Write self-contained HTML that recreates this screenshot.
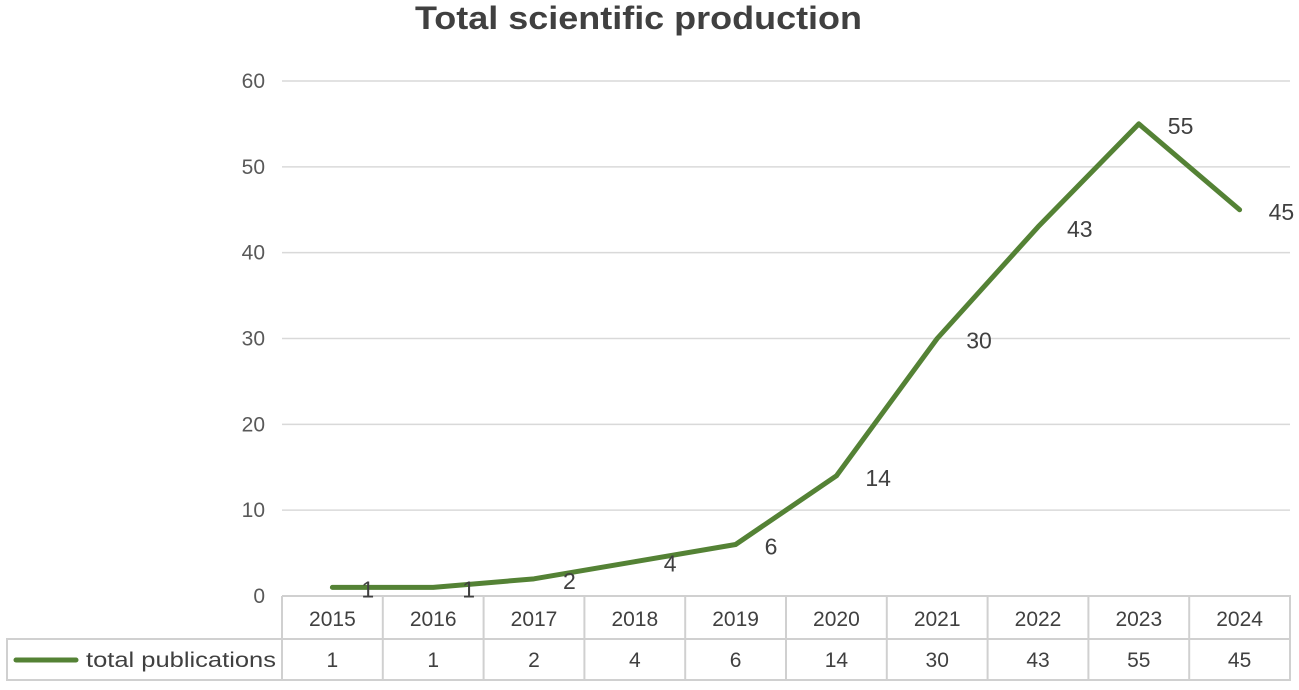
<!DOCTYPE html>
<html><head><meta charset="utf-8"><style>
body{margin:0;background:#fff;}
svg{display:block;font-family:"Liberation Sans",Calibri,sans-serif;}
</style></head><body>
<svg width="1299" height="690" viewBox="0 0 1299 690">
<text x="415" y="29" textLength="447" lengthAdjust="spacingAndGlyphs" font-size="32" font-weight="bold" fill="#404040">Total scientific production</text>
<g id="grid"></g>
<g id="table"></g>
<g id="series"></g>
</svg>
<script>
const years = ["2015","2016","2017","2018","2019","2020","2021","2022","2023","2024"];
const pubs = [1,1,2,4,6,14,30,43,55,45];
const yTicks = [0,10,20,30,40,50,60];
const ns="http://www.w3.org/2000/svg";
const L=282,R=1290,Y0=596,Y60=81,T1=639,B=680;
const cw=(R-L)/years.length;
const x=i=>L+cw*(i+0.5);
const y=v=>Y0-(v/60)*(Y0-Y60);
function mk(t,a,p){const e=document.createElementNS(ns,t);for(const k in a)e.setAttribute(k,a[k]);p.appendChild(e);return e;}
const grid=document.getElementById('grid'),tbl=document.getElementById('table'),ser=document.getElementById('series');
yTicks.forEach(v=>{
  if(v>0){const g=mk('line',{x1:L,x2:R,y1:y(v),y2:y(v),stroke:'#d9d9d9','stroke-width':1.5},grid);
  
  }
  const t=mk('text',{x:265,y:y(v)+7,'text-anchor':'end','font-size':21,fill:'#595959'},grid);
  t.textContent=v;
  
  
});
const st={stroke:'#d0d0d0','stroke-width':2,fill:'none'};
const o=mk('path',Object.assign({d:`M${L} ${Y0}H${R}V${B}H7V${T1}H${R}M${L} ${Y0}V${B}`},st),tbl);


years.forEach((yr,i)=>{
  if(i>0)mk('line',Object.assign({x1:L+cw*i,x2:L+cw*i,y1:Y0,y2:B},st),tbl);
  const h=mk('text',{x:x(i),y:626,'text-anchor':'middle','font-size':21,fill:'#404040'},tbl);
  h.textContent=yr;
  
  
  const c=mk('text',{x:x(i),y:667,'text-anchor':'middle','font-size':21,fill:'#404040'},tbl);
  c.textContent=pubs[i];
  
  
});
const lk=mk('line',{x1:16,x2:76,y1:660,y2:660,stroke:'#548235','stroke-width':5,'stroke-linecap':'round'},tbl);


const lt=mk('text',{x:86,y:667,'font-size':21,fill:'#404040',textLength:190,lengthAdjust:'spacingAndGlyphs'},tbl);
lt.textContent='total publications';


const pl=mk('polyline',{points:pubs.map((v,i)=>x(i)+','+y(v)).join(' '),fill:'none',stroke:'#548235','stroke-width':5,'stroke-linejoin':'round','stroke-linecap':'round'},ser);


pubs.forEach((v,i)=>{
  const t=mk('text',{x:x(i)+29,y:y(v)+10,'font-size':23,fill:'#404040'},ser);
  t.textContent=v;
  
  
});
</script>
</body></html>
